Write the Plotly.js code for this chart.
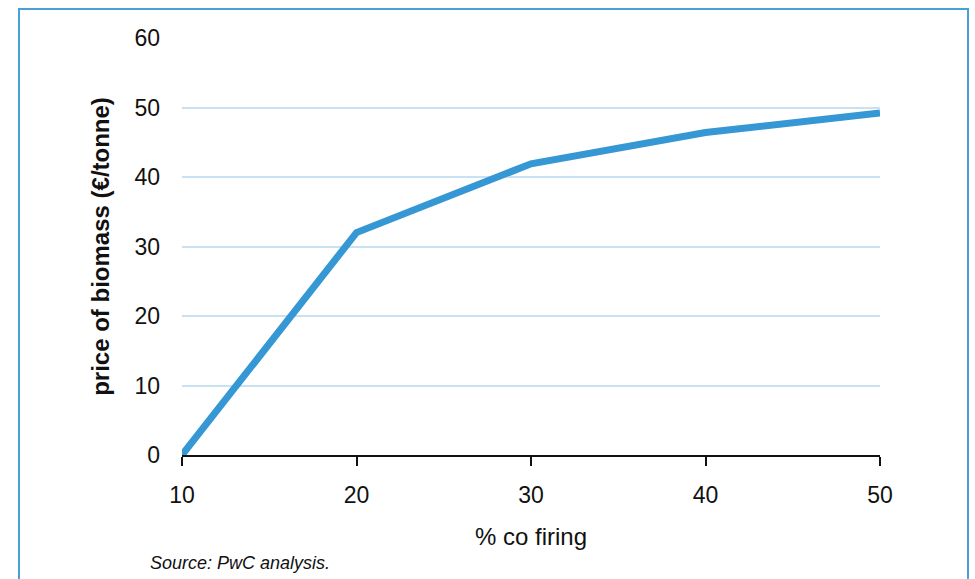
<!DOCTYPE html>
<html>
<head>
<meta charset="utf-8">
<script src="https://cdn.plot.ly/plotly-3.0.1.min.js"></script>
<style>
  html, body { margin: 0; padding: 0; background: #fff; }
  #wrap { position: relative; width: 975px; height: 579px; overflow: hidden; }
  #frame { position: absolute; left: 18px; top: 8px; width: 951px; height: 700px; border: 2px solid #4a9fd8; box-sizing: border-box; pointer-events: none; }
  #chart { position: absolute; left: 0; top: 0; width: 975px; height: 579px; }
</style>
</head>
<body>
<div id="wrap">
  <div id="chart"></div>
  <div id="frame"></div>
</div>
<script>
const coFiring = [10, 20, 30, 40, 50];
const biomassPrice = [0, 32, 41.9, 46.4, 49.2];
const xTicks = [10, 20, 30, 40, 50];
const yTicks = [0, 10, 20, 30, 40, 50, 60];
const xTitle = '% co firing';
const yTitle = 'price of biomass (€/tonne)';
const sourceNote = 'Source: PwC analysis.';

const FONT = '"Liberation Sans", Arial, Helvetica, sans-serif';

const trace = {
  x: coFiring,
  y: biomassPrice,
  type: 'scatter',
  mode: 'lines',
  line: { color: '#3597d3', width: 7 },
  hoverinfo: 'skip'
};

const layout = {
  width: 975,
  height: 579,
  margin: { l: 182, r: 95, t: 38, b: 124 },
  paper_bgcolor: '#ffffff',
  plot_bgcolor: '#ffffff',
  showlegend: false,
  font: { family: FONT, color: '#111111', size: 23 },
  xaxis: {
    range: [10, 50],
    tickvals: xTicks,
    ticktext: xTicks.map(String),
    showgrid: false,
    zeroline: false,
    showline: true,
    linecolor: '#111111',
    linewidth: 2,
    ticks: 'outside',
    ticklen: 9,
    tickwidth: 2,
    tickcolor: '#111111',
    ticklabelstandoff: 9,
    tickfont: { family: FONT, size: 23, color: '#111111' },
    title: { text: xTitle, font: { family: FONT, size: 24, color: '#111111' }, standoff: 22 },
    fixedrange: true
  },
  yaxis: {
    range: [0, 60],
    tickvals: yTicks,
    ticktext: yTicks.map(String),
    showgrid: true,
    gridcolor: '#c8e2f4',
    gridwidth: 2,
    zeroline: false,
    showline: false,
    ticks: '',
    ticklabelstandoff: 21,
    tickfont: { family: FONT, size: 23, color: '#111111' },
    title: { text: '<b>' + yTitle + '</b>', font: { family: FONT, size: 24, color: '#111111' }, standoff: 18 },
    fixedrange: true
  },
  annotations: [{
    text: '<i>' + sourceNote + '</i>',
    xref: 'paper', yref: 'paper',
    x: -0.049, y: -0.259,
    xanchor: 'left', yanchor: 'middle',
    showarrow: false,
    font: { family: FONT, size: 18, color: '#111111' }
  }]
};

Plotly.newPlot('chart', [trace], layout, { displayModeBar: false, staticPlot: true });
</script>
</body>
</html>
